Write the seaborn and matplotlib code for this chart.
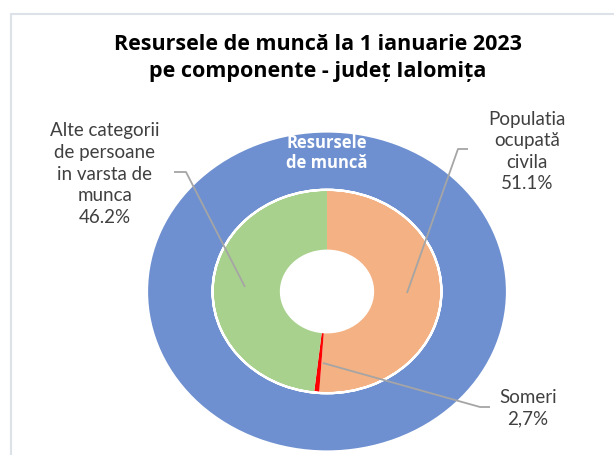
import matplotlib
matplotlib.use("Agg")
import matplotlib.pyplot as plt
import seaborn as sns
from matplotlib.lines import Line2D

sns.set_theme(style="white")
plt.rcParams['font.family'] = ['Lato', 'DejaVu Sans']

# ---- data ----
title_lines = ["Resursele de muncă la 1 ianuarie 2023", "pe componente - județ Ialomița"]
outer_label = "Resursele\nde muncă"
outer_values = [100.0]
inner_categories = ["Populatia\nocupată\ncivila", "Someri", "Alte categorii\nde persoane\nin varsta de\nmunca"]
inner_shares = [51.1, 0.7, 48.2]            # slice sizes as drawn in the picture
inner_label_pcts = ["51.1%", "2,7%", "46.2%"]  # printed labels
inner_colors = ["#F4B183", "#FF0000", "#A9D18E"]
outer_color = "#6E90D0"

W, H = 614, 455
fig = plt.figure(figsize=(W / 100, H / 100), dpi=100)
ax = fig.add_axes([0, 0, 1, 1])

# pixel geometry of the donut
cx, cy = 327.0, 291.5
rx, ry = 180.0, 160.0

def P(x, y):
    return (x - cx) / rx, (cy - y) / ry

ax.pie(outer_values, radius=1.0, colors=[outer_color], startangle=90,
       counterclock=False,
       wedgeprops=dict(width=1.0 - 0.636, edgecolor="white", linewidth=1.6))
ax.pie(inner_shares, radius=0.636, colors=inner_colors, startangle=90,
       counterclock=False,
       wedgeprops=dict(width=0.636 - 0.262, edgecolor="none", linewidth=0))
# white edge between rings
ax.pie(outer_values, radius=0.636, colors=["none"], startangle=90,
       wedgeprops=dict(width=0.001, edgecolor="white", linewidth=1.6, fill=False))

ax.set_aspect("auto")
ax.set_xlim(-cx / rx, (W - cx) / rx)
ax.set_ylim(-(H - cy) / ry, cy / ry)
ax.axis("off")

# chart border (left + top visible)
fig.add_artist(Line2D([11 / W, 11 / W], [0, 1 - 14 / H], transform=fig.transFigure,
                      color="#DDE1E8", lw=1.5))
fig.add_artist(Line2D([11 / W, 1], [1 - 14 / H, 1 - 14 / H], transform=fig.transFigure,
                      color="#DDE1E8", lw=1.5))

# title
tfont = ['Open Sans', 'DejaVu Sans']
fig.text(317.5 / W, 1 - 44 / H, title_lines[0], ha="center", va="center",
         fontsize=15.5, fontweight="bold", color="#000000", family=tfont)
fig.text(317.5 / W, 1 - 71 / H, title_lines[1], ha="center", va="center",
         fontsize=15.5, fontweight="bold", color="#000000", family=tfont)

# outer ring label
ax.text(*P(327, 153), outer_label, ha="center", va="center", color="white",
        fontsize=12, fontweight="bold", linespacing=1.2, family=tfont)

# leader lines
lc = "#A5A5A5"
leaders = [
    [(407, 293), (458, 149), (468, 149)],
    [(323, 363), (480, 407), (490, 407)],
    [(245, 287), (186, 172), (174, 172)],
]
for pts in leaders:
    xs, ys = zip(*[P(*p) for p in pts])
    ax.plot(xs, ys, color=lc, lw=1.3, solid_capstyle="butt")

# data labels
label_pos = [(527, 151.5), (528, 408.5), (105, 174)]
for cat, pct, (lx, ly) in zip(inner_categories, inner_label_pcts, label_pos):
    ax.text(*P(lx, ly), f"{cat}\n{pct}", ha="center", va="center",
            color="#404040", fontsize=13.5, linespacing=1.33)

fig.savefig("out.png", dpi=100, facecolor="white")
